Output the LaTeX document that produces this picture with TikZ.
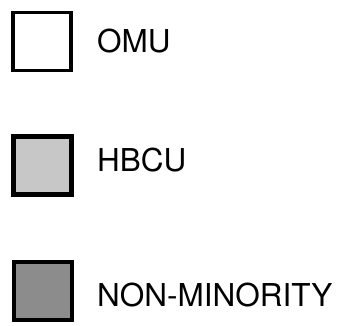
\documentclass[tikz,border=0pt]{standalone}
\usepackage{fontspec}
\setmainfont{TeX Gyre Heros}
\usetikzlibrary{positioning, patterns}

\tikzset{
  legbox/.style={draw=black, line width=3.5pt, minimum width=58pt, minimum height=58pt, inner sep=0pt},
  leglabel/.style={font=\fontsize{31.5}{33}\selectfont, inner sep=0pt, anchor=west}
}

\begin{document}
\begin{tikzpicture}[x=1pt, y=1pt]

    % Frame
    \useasboundingbox (0,0) rectangle (339,-325);

    % Boxes
    \node[legbox, fill=white] (omubox) at (42,-41.5) {};
    \node[legbox, fill=black!22, line width=5pt] (hbcubox) at (42.5,-165) {};
    \node[legbox, fill=black!45, line width=4pt] (nonbox) at (42.5,-291) {};

    % Labels
    \node[leglabel] (omutext) at (97,-41.5) {OMU};
    \node[leglabel] (hbcutext) at (97,-160) {HBCU};
    \node[leglabel] (nontext) at (97,-295) {NON-MINORITY};

\end{tikzpicture}
\end{document}
